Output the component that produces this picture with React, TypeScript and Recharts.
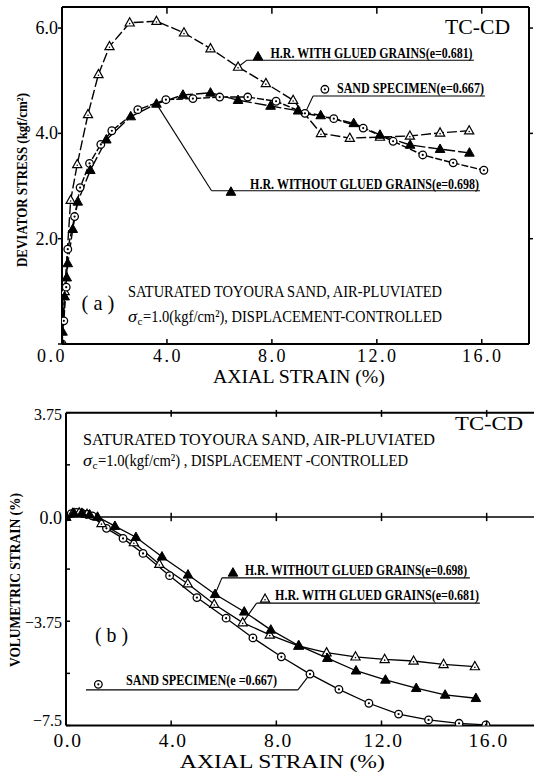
import React from 'react';
import { LineChart, Line, XAxis, YAxis, ReferenceLine, ReferenceDot } from 'recharts';

const SERIF = "'Liberation Serif', 'DejaVu Serif', serif";

// ---------- (a) deviator stress vs axial strain ----------
const aStrainTicks = [0, 4, 8, 12, 16];
const aStressTicks = [0, 2, 4, 6];

// H.R. with glued grains (e=0.681)
const aGluedStrain = [0, 0.1, 0.33, 0.58, 0.99, 1.39, 1.81, 2.58, 3.6, 4.65, 5.66, 6.71, 7.77, 8.81, 9.87, 10.97, 12.12, 13.26, 14.41, 15.52];
const aGluedStress = [0, 1.0, 2.73, 3.41, 4.36, 5.12, 5.65, 6.1, 6.13, 5.91, 5.61, 5.26, 4.95, 4.63, 4.0, 3.91, 3.93, 3.95, 4.01, 4.05];

// sand specimen (e=0.667)
const aSandStrain = [0, 0.07, 0.16, 0.22, 0.48, 0.69, 1.05, 1.48, 1.9, 2.89, 3.96, 4.99, 6.01, 7.08, 8.16, 9.26, 10.36, 11.48, 12.62, 13.75, 14.91, 16.08];
const aSandStress = [0, 0.44, 1.08, 1.8, 2.42, 2.97, 3.43, 3.79, 4.05, 4.45, 4.64, 4.66, 4.69, 4.69, 4.61, 4.38, 4.28, 4.1, 3.85, 3.59, 3.44, 3.3];

// H.R. without glued grains (e=0.698)
const aPlainStrain = [0, 0.02, 0.1, 0.18, 0.22, 0.41, 0.6, 1.08, 1.69, 2.62, 3.6, 4.61, 5.66, 6.71, 7.95, 9.0, 9.86, 11.12, 12.12, 13.27, 14.41, 15.53];
const aPlainStress = [0, 0.23, 0.9, 1.26, 1.53, 2.18, 2.7, 3.3, 3.88, 4.32, 4.56, 4.73, 4.77, 4.63, 4.52, 4.43, 4.34, 4.19, 3.97, 3.78, 3.7, 3.63];

// ---------- (b) volumetric strain vs axial strain ----------
const bStrainTicks = [0, 4, 8, 12, 16];
const bVolTicks = [-7.5, -5.625, -3.75, -1.875, 0, 1.875, 3.75];

const bSandStrain = [0, 0.2, 0.4, 0.6, 0.8, 1.0, 1.54, 2.17, 2.93, 3.94, 4.98, 6.09, 7.11, 8.19, 9.28, 10.38, 11.52, 12.65, 13.79, 14.95, 15.97];
const bSandVol = [0, 0.12, 0.16, 0.14, 0.1, 0.04, -0.41, -0.77, -1.31, -2.11, -2.9, -3.64, -4.35, -5.03, -5.65, -6.2, -6.7, -7.09, -7.3, -7.42, -7.48];

const bPlainStrain = [0, 0.3, 0.6, 0.9, 1.2, 1.86, 2.66, 3.65, 4.64, 5.67, 6.78, 7.79, 8.86, 9.94, 11.03, 12.15, 13.32, 14.42, 15.59];
const bPlainVol = [0, 0.14, 0.14, 0.08, 0.0, -0.33, -0.73, -1.43, -2.08, -2.78, -3.41, -4.06, -4.63, -5.08, -5.53, -5.86, -6.16, -6.4, -6.52];

const bGluedStrain = [0, 0.25, 0.5, 0.8, 1.35, 2.58, 3.55, 4.63, 5.64, 6.72, 7.75, 8.84, 9.91, 11.01, 12.12, 13.22, 14.36, 15.55];
const bGluedVol = [0, 0.13, 0.15, 0.1, -0.23, -0.92, -1.7, -2.4, -3.14, -3.8, -4.24, -4.64, -4.88, -5.03, -5.12, -5.18, -5.3, -5.38];

const toPts = (xs: number[], ys: number[]) => xs.map((x, i) => ({ x, y: ys[i] }));

// ---------- markers ----------
function OpenTri({ cx, cy }: { cx: number; cy: number }) {
  return (
    <g>
      <path d={`M${cx},${cy - 5}L${cx + 4.6},${cy + 3.2}L${cx - 4.6},${cy + 3.2}Z`} fill="#fff" stroke="#000" strokeWidth={1.2} />
      <circle cx={cx} cy={cy + 0.8} r={0.8} fill="#000" />
    </g>
  );
}
function FullTri({ cx, cy }: { cx: number; cy: number }) {
  return <path d={`M${cx},${cy - 5.2}L${cx + 4.8},${cy + 3.3}L${cx - 4.8},${cy + 3.3}Z`} fill="#000" stroke="#000" strokeWidth={1} />;
}
function Ring({ cx, cy }: { cx: number; cy: number }) {
  return (
    <g>
      <circle cx={cx} cy={cy} r={3.8} fill="#fff" stroke="#000" strokeWidth={1.3} />
      <circle cx={cx} cy={cy} r={1.1} fill="#000" />
    </g>
  );
}
const dotOf = (Shape: any) => (p: any) => <Shape key={`d${p.index}`} cx={p.cx} cy={p.cy} />;

function Txt({ x, y, w, size, bold, italic, anchor = 'start', rot, children }: any) {
  return (
    <text
      x={x}
      y={y}
      fontFamily={SERIF}
      fontSize={size}
      fontWeight={bold ? 700 : 400}
      fontStyle={italic ? 'italic' : 'normal'}
      textAnchor={anchor}
      textLength={w}
      lengthAdjust="spacingAndGlyphs"
      transform={rot ? `rotate(-90 ${x} ${y})` : undefined}
      fill="#000"
    >
      {children}
    </text>
  );
}

// "σc=..." condition line, as separate texts
function SigmaLine({ x, y, rest, wRest }: any) {
  return (
    <g>
      <Txt x={x} y={y} w={9} size={17} italic>σ</Txt>
      <Txt x={x + 9.5} y={y + 3} w={5} size={11}>c</Txt>
      <Txt x={x + 15} y={y} w={wRest} size={17}>{rest}</Txt>
    </g>
  );
}

// text / marker placed at a data position
const note = (key: string, x: number, y: number, render: (cx: number, cy: number) => React.ReactElement) => (
  <ReferenceDot key={key} x={x} y={y} r={0} ifOverflow="visible" shape={(p: any) => render(p.cx, p.cy)} />
);

// leader polyline from data point to label underline
const leader = (key: string, pts: { x: number; y: number }[], w = 1.1) =>
  pts.slice(1).map((p, i) => (
    <ReferenceLine key={`${key}${i}`} segment={[pts[i], p]} stroke="#000" strokeWidth={w} ifOverflow="visible" />
  ));

const seg = (key: string, a: { x: number; y: number }, b: { x: number; y: number }, w = 1.5) => (
  <ReferenceLine key={key} segment={[a, b]} stroke="#000" strokeWidth={w} ifOverflow="visible" />
);

// ---------- ticks ----------
const aBottomTick = (p: any) => {
  const v = p.payload.value;
  return (
    <g key={`ab${v}`}>
      {v !== 0 && <line x1={p.x} x2={p.x} y1={p.y} y2={p.y - 5} stroke="#000" strokeWidth={1.5} />}
      <text x={p.x + (v === 0 ? -10 : 1)} y={p.y + 18} textAnchor="middle" fontFamily={SERIF} fontSize={18} letterSpacing={2.5}>
        {v.toFixed(1)}
      </text>
    </g>
  );
};
const aLeftTick = (p: any) => {
  const v = p.payload.value;
  return (
    <g key={`al${v}`}>
      <line x1={p.x - 4} x2={p.x} y1={p.y} y2={p.y} stroke="#000" strokeWidth={1.5} />
      {v !== 0 && (
        <text x={p.x - 4} y={p.y + 6} textAnchor="end" fontFamily={SERIF} fontSize={18}>
          {v.toFixed(1)}
        </text>
      )}
    </g>
  );
};
const bBottomTick = (p: any) => {
  const v = p.payload.value;
  return (
    <g key={`bb${v}`}>
      {v !== 0 && <line x1={p.x} x2={p.x} y1={p.y} y2={p.y - 5} stroke="#000" strokeWidth={1.5} />}
      <text x={p.x + 2} y={p.y + 21.5} textAnchor="middle" fontFamily={SERIF} fontSize={19.5} letterSpacing={1.5}>
        {v.toFixed(1)}
      </text>
    </g>
  );
};
const bLabel = (v: number) => {
  if (v === 0) return '0.0';
  if (Math.abs(v) === 3.75) return v < 0 ? '\u22123.75' : '3.75';
  if (v === -7.5) return '\u22127.5';
  return '';
};
const bLeftTick = (p: any) => {
  const v = p.payload.value;
  const s = bLabel(v);
  return (
    <g key={`bl${v}`}>
      <line x1={p.x} x2={p.x + 4} y1={p.y} y2={p.y} stroke="#000" strokeWidth={1.5} />
      {s && (
        <text x={p.x - 4} y={p.y + (v === -7.5 ? 0.5 : 7)} textAnchor="end" fontFamily={SERIF} fontSize={v === 0 ? 18 : 16}>
          {s}
        </text>
      )}
    </g>
  );
};

const axisStyle = { stroke: '#000', strokeWidth: 2 };

function PanelA() {
  return (
    <LineChart width={534} height={390} margin={{ top: 7, right: 5, left: 0, bottom: 0 }}>
      <XAxis dataKey="x" type="number" domain={[0, 17.8]} ticks={aStrainTicks} allowDataOverflow height={46}
        axisLine={axisStyle} tickLine={false} tickSize={0} tickMargin={0} interval={0} tick={aBottomTick} />
      <YAxis type="number" domain={[0, 6.4]} ticks={aStressTicks} allowDataOverflow width={62}
        axisLine={axisStyle} tickLine={false} tickSize={0} tickMargin={0} interval={0} tick={aLeftTick} />

      {/* box: top and right borders with ticks */}
      <ReferenceLine y={6.4} stroke="#000" strokeWidth={2} ifOverflow="visible" />
      <ReferenceLine x={17.8} stroke="#000" strokeWidth={2} ifOverflow="visible" />
      {aStrainTicks.slice(1).map((t) => seg(`at${t}`, { x: t, y: 6.4 }, { x: t, y: 6.27 }))}
      {aStressTicks.slice(1).map((t) => seg(`ar${t}`, { x: 17.8, y: t }, { x: 17.95, y: t }))}

      {leader('lg', [{ x: 6.71, y: 5.26 }, { x: 7.05, y: 5.39 }, { x: 15.7, y: 5.39 }])}
      {leader('ls', [{ x: 9.26, y: 4.38 }, { x: 9.57, y: 4.71 }, { x: 16.12, y: 4.71 }])}
      {leader('lp', [{ x: 3.6, y: 4.56 }, { x: 5.7, y: 2.91 }, { x: 15.93, y: 2.91 }])}

      <Line data={toPts(aGluedStrain, aGluedStress)} dataKey="y" stroke="#000" strokeWidth={1.4} strokeDasharray="10 3"
        dot={dotOf(OpenTri)} activeDot={false} isAnimationActive={false} />
      <Line data={toPts(aSandStrain, aSandStress)} dataKey="y" stroke="#000" strokeWidth={1.4} strokeDasharray="7 2"
        dot={dotOf(Ring)} activeDot={false} isAnimationActive={false} />
      <Line data={toPts(aPlainStrain, aPlainStress)} dataKey="y" stroke="#000" strokeWidth={1.4} strokeDasharray="12 3"
        dot={dotOf(FullTri)} activeDot={false} isAnimationActive={false} />

      {note('mg', 7.47, 5.456, (cx, cy) => <FullTri cx={cx} cy={cy} />)}
      {note('tg', 7.95, 5.44, (cx, cy) => (
        <Txt x={cx} y={cy} w={202} size={14} bold>H.R. WITH GLUED GRAINS(e=0.681)</Txt>
      ))}
      {note('ms', 10.02, 4.837, (cx, cy) => <Ring cx={cx} cy={cy} />)}
      {note('ts', 10.48, 4.767, (cx, cy) => (
        <Txt x={cx} y={cy} w={147} size={14} bold>SAND SPECIMEN(e=0.667)</Txt>
      ))}
      {note('mp', 6.44, 2.887, (cx, cy) => <FullTri cx={cx} cy={cy} />)}
      {note('tp', 7.17, 2.953, (cx, cy) => (
        <Txt x={cx} y={cy} w={229} size={14} bold>H.R.  WITHOUT GLUED GRAINS(e=0.698)</Txt>
      ))}

      {note('tc', 14.6, 5.887, (cx, cy) => <Txt x={cx} y={cy} w={65} size={21}>TC-CD</Txt>)}
      {note('pa', 1.37, 0.646, (cx, cy) => <Txt x={cx} y={cy} w={33} size={21} anchor="middle">( a )</Txt>)}
      {note('c1', 2.515, 0.893, (cx, cy) => (
        <Txt x={cx} y={cy} w={314} size={17}>SATURATED TOYOURA SAND,  AIR-PLUVIATED</Txt>
      ))}
      {note('c2', 2.515, 0.418, (cx, cy) => (
        <SigmaLine x={cx} y={cy} rest="=1.0(kgf/cm²), DISPLACEMENT-CONTROLLED" wRest={299} />
      ))}

      {note('xa', 9.03, -0.75, (cx, cy) => <Txt x={cx} y={cy} w={172} size={19} anchor="middle">AXIAL STRAIN  (%)</Txt>)}
      {note('ya', -1.334, 3.114, (cx, cy) => (
        <Txt x={cx} y={cy} w={174} size={14} bold anchor="middle" rot>DEVIATOR STRESS  (kgf/cm²)</Txt>
      ))}
    </LineChart>
  );
}

function PanelB() {
  return (
    <LineChart width={534} height={382} margin={{ top: 22.7, right: 0, left: 0, bottom: 0 }}>
      <XAxis dataKey="x" type="number" domain={[0, 17.8]} ticks={bStrainTicks} allowDataOverflow height={46.5}
        axisLine={axisStyle} tickLine={false} tickSize={0} tickMargin={0} interval={0} tick={bBottomTick} />
      <YAxis type="number" domain={[-7.5, 3.75]} ticks={bVolTicks} allowDataOverflow width={66}
        axisLine={axisStyle} tickLine={false} tickSize={0} tickMargin={0} interval={0} tick={bLeftTick} />

      <ReferenceLine y={3.75} stroke="#000" strokeWidth={2} ifOverflow="visible" />
      <ReferenceLine y={0} stroke="#000" strokeWidth={1.6} ifOverflow="visible" />
      {bStrainTicks.slice(1).map((t) => seg(`bt${t}`, { x: t, y: 3.85 }, { x: t, y: 3.6 }))}
      {bStrainTicks.slice(1).map((t) => seg(`bz${t}`, { x: t, y: 0.15 }, { x: t, y: -0.15 }))}

      {leader('lp', [{ x: 5.67, y: -2.78 }, { x: 5.93, y: -2.19 }, { x: 15.36, y: -2.19 }])}
      {leader('lg', [{ x: 6.72, y: -3.8 }, { x: 7.25, y: -3.1 }, { x: 15.74, y: -3.1 }])}
      {leader('ls', [{ x: 0.76, y: -6.22 }, { x: 8.82, y: -6.22 }, { x: 9.28, y: -5.65 }])}

      <Line data={toPts(bSandStrain, bSandVol)} dataKey="y" stroke="#000" strokeWidth={1.3}
        dot={dotOf(Ring)} activeDot={false} isAnimationActive={false} />
      <Line data={toPts(bGluedStrain, bGluedVol)} dataKey="y" stroke="#000" strokeWidth={1.3}
        dot={dotOf(OpenTri)} activeDot={false} isAnimationActive={false} />
      <Line data={toPts(bPlainStrain, bPlainVol)} dataKey="y" stroke="#000" strokeWidth={1.3}
        dot={dotOf(FullTri)} activeDot={false} isAnimationActive={false} />

      {note('mp', 6.35, -2.01, (cx, cy) => <FullTri cx={cx} cy={cy} />)}
      {note('tp', 6.81, -2.1, (cx, cy) => (
        <Txt x={cx} y={cy} w={222} size={14} bold>H.R. WITHOUT GLUED GRAINS(e=0.698)</Txt>
      ))}
      {note('mg', 7.57, -2.95, (cx, cy) => <OpenTri cx={cx} cy={cy} />)}
      {note('tg', 7.95, -2.97, (cx, cy) => (
        <Txt x={cx} y={cy} w={204} size={14} bold>H.R. WITH GLUED GRAINS(e=0.681)</Txt>
      ))}
      {note('ms', 1.23, -6.02, (cx, cy) => <Ring cx={cx} cy={cy} />)}
      {note('ts', 2.28, -6.03, (cx, cy) => (
        <Txt x={cx} y={cy} w={151} size={14} bold>SAND SPECIMEN(e =0.667)</Txt>
      ))}

      {note('tc', 14.8, 3.13, (cx, cy) => <Txt x={cx} y={cy} w={68} size={19}>TC-CD</Txt>)}
      {note('pb', 1.73, -4.49, (cx, cy) => <Txt x={cx} y={cy} w={33} size={21} anchor="middle">( b )</Txt>)}
      {note('c1', 0.647, 2.59, (cx, cy) => (
        <Txt x={cx} y={cy} w={352} size={17}>SATURATED TOYOURA SAND, AIR-PLUVIATED</Txt>
      ))}
      {note('c2', 0.647, 1.82, (cx, cy) => (
        <SigmaLine x={cx} y={cy} rest=" =1.0(kgf/cm²) , DISPLACEMENT -CONTROLLED" wRest={310} />
      ))}

      {note('xa', 8.23, -9.035, (cx, cy) => <Txt x={cx} y={cy} w={205} size={19} anchor="middle">AXIAL  STRAIN  (%)</Txt>)}
      {note('ya', -1.75, -2.27, (cx, cy) => (
        <Txt x={cx} y={cy} w={174} size={14} bold anchor="middle" rot>VOLUMETRIC STRAIN (%)</Txt>
      ))}
    </LineChart>
  );
}

export default function App() {
  return (
    <div style={{ position: 'absolute', left: 0, top: 0, width: 534, height: 772, background: '#fff' }}>
      <PanelA />
      <PanelB />
    </div>
  );
}
